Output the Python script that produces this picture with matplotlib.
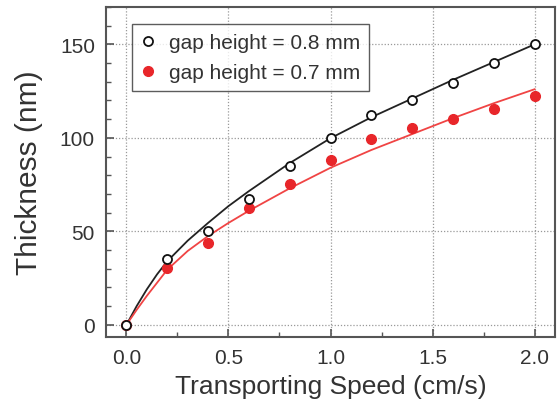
import matplotlib
matplotlib.use("Agg")
import matplotlib.pyplot as plt
from matplotlib.ticker import MultipleLocator, FormatStrFormatter

plt.rcParams['font.family'] = ['Liberation Sans', 'DejaVu Sans']

speed = [0.0, 0.2, 0.4, 0.6, 0.8, 1.0, 1.2, 1.4, 1.6, 1.8, 2.0]
thick_08 = [0, 35.2, 50.2, 67.3, 85.1, 99.7, 112.1, 120.3, 129.6, 140.2, 150.4]
thick_07 = [0, 30.3, 43.6, 62.3, 75.3, 88.1, 99.3, 105.2, 110.0, 115.3, 122.4]

fit_x = [0.0, 0.05, 0.1, 0.15, 0.2, 0.3, 0.4, 0.5, 0.6, 0.8, 1.0, 1.2, 1.4, 1.6, 1.8, 2.0]
fit_08 = [0, 10, 19, 27, 34, 45, 54.5, 63.5, 71.5, 86.5, 99.8, 111, 121, 131, 140.5, 150]
fit_07 = [0, 8, 15.5, 22.5, 29.5, 39.5, 47.5, 54.5, 61, 73, 84, 93.5, 102, 110.5, 118.5, 126]

label_08 = 'gap height = 0.8 mm'
label_07 = 'gap height = 0.7 mm'

fig = plt.figure(figsize=(5.58, 4.10), dpi=100)
ax = fig.add_axes([0.19, 0.1756, 0.8046, 0.805])

txt = '#333333'
red = '#e8262a'

ax.plot(fit_x, fit_08, color='#222222', lw=1.3, zorder=2)
ax.plot(fit_x, fit_07, color='#f04444', lw=1.3, zorder=2)
ax.plot(speed, thick_08, 'o', ms=6.5, mfc='white', mec='#111111', mew=1.3,
        ls='none', zorder=4, label=label_08)
ax.plot(speed, thick_07, 'o', ms=7, mfc=red, mec=red, mew=1,
        ls='none', zorder=3, label=label_07)

ax.set_xlim(-0.1, 2.1)
ax.set_ylim(-6.5, 170)
ax.xaxis.set_major_locator(MultipleLocator(0.5))
ax.xaxis.set_minor_locator(MultipleLocator(0.25))
ax.yaxis.set_major_locator(MultipleLocator(50))
ax.yaxis.set_minor_locator(MultipleLocator(10))
ax.xaxis.set_major_formatter(FormatStrFormatter('%.1f'))

ax.grid(True, which='major', ls=(0, (1, 1.5)), color='#999999', lw=0.9)
ax.tick_params(which='both', direction='in', top=False, right=False,
               colors='#555555', labelcolor=txt, labelsize=15)
ax.tick_params(which='major', length=6, width=1.2, pad=8)
ax.tick_params(which='minor', length=3.5, width=1.0)
for s in ax.spines.values():
    s.set_color('#555555')
    s.set_linewidth(1.5)

ax.set_xlabel('Transporting Speed (cm/s)', fontsize=19, color=txt, labelpad=5)
ax.set_ylabel('Thickness (nm)', fontsize=21.5, color=txt, labelpad=12)

leg = ax.legend(loc='upper left', bbox_to_anchor=(0.058, 0.948), fontsize=15,
                frameon=True, fancybox=False, edgecolor='#333333',
                handlelength=0.6, handletextpad=0.7, borderpad=0.45,
                labelspacing=0.5, borderaxespad=0)
leg.get_frame().set_linewidth(1.0)
for t in leg.get_texts():
    t.set_color(txt)

fig.savefig('out.png', dpi=100)
